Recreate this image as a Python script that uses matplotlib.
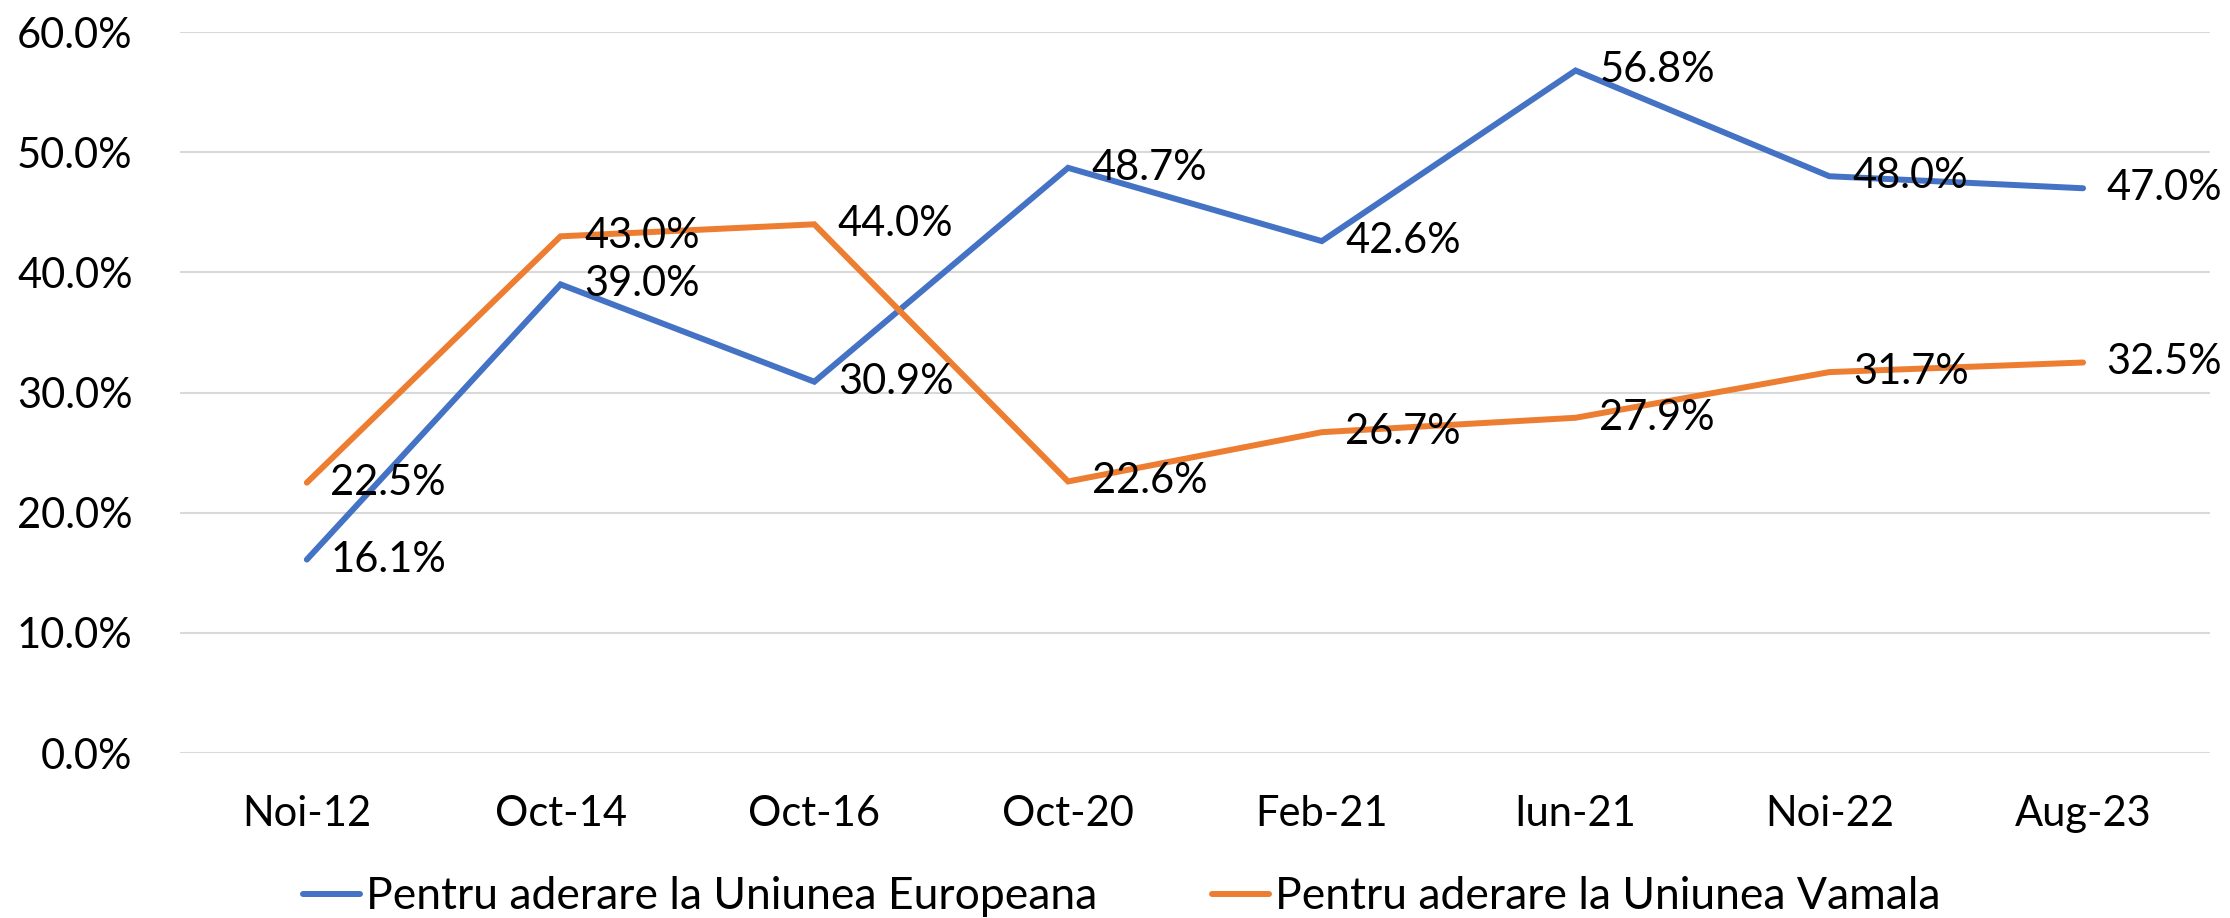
import matplotlib
matplotlib.use("Agg")
import matplotlib.pyplot as plt
from matplotlib.ticker import PercentFormatter

plt.rcParams["font.family"] = ["Lato", "DejaVu Sans"]

# ---- data ----
categories = ["Noi-12", "Oct-14", "Oct-16", "Oct-20", "Feb-21", "Iun-21", "Noi-22", "Aug-23"]
eu_vals = [16.1, 39.0, 30.9, 48.7, 42.6, 56.8, 48.0, 47.0]
vama_vals = [22.5, 43.0, 44.0, 22.6, 26.7, 27.9, 31.7, 32.5]
y_ticks = [0, 10, 20, 30, 40, 50, 60]

BLUE = "#4472C4"
ORANGE = "#ED7D31"
GRID = "#D9D9D9"
FS = 30

fig = plt.figure(figsize=(22.3, 9.18), dpi=100)
ax = fig.add_axes([0.0807, 0.1797, 0.9103, 0.7854])

x = list(range(len(categories)))
ax.plot(x, eu_vals, color=BLUE, linewidth=4.3, solid_capstyle="round",
        solid_joinstyle="miter", label="Pentru aderare la Uniunea Europeana", zorder=3)
ax.plot(x, vama_vals, color=ORANGE, linewidth=4.3, solid_capstyle="round",
        solid_joinstyle="miter", label="Pentru aderare la Uniunea Vamala", zorder=3)

for vals in (eu_vals, vama_vals):
    for xi, v in zip(x, vals):
        ax.annotate(f"{v:.1f}%", (xi, v), xytext=(17, 0), textcoords="offset points",
                    ha="left", va="center", fontsize=FS, color="black", zorder=4)

ax.set_xlim(-0.5, len(categories) - 0.5)
ax.set_ylim(0, 60)
ax.set_yticks(y_ticks)
ax.yaxis.set_major_formatter(PercentFormatter(decimals=1))
ax.set_xticks(x)
ax.set_xticklabels(categories)
ax.tick_params(axis="y", length=0, pad=34, labelsize=FS)
ax.tick_params(axis="x", length=0, pad=30, labelsize=FS)
ax.grid(axis="y", color=GRID, linewidth=1.5, zorder=0)
for s in ax.spines.values():
    s.set_visible(False)

h, l = ax.get_legend_handles_labels()
fig.legend(h, l, loc="center", bbox_to_anchor=(0.503, 0.023), ncol=2, frameon=False,
           fontsize=32, handlelength=1.28, handletextpad=0.12, columnspacing=2.6)

fig.savefig("out.png", dpi=100)
